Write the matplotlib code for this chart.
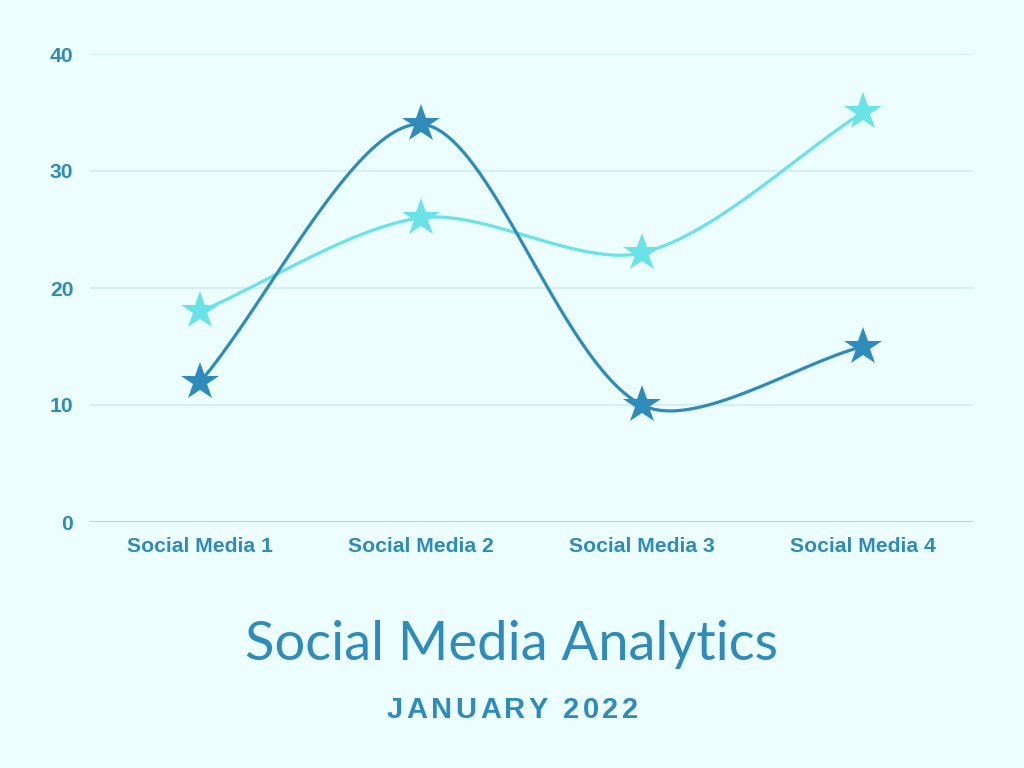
import numpy as np
import matplotlib
matplotlib.use("Agg")
import matplotlib.pyplot as plt

categories = ["Social Media 1", "Social Media 2", "Social Media 3", "Social Media 4"]
series_dark = [12, 34, 10, 15]
series_light = [18, 26, 23, 35]
y_ticks = [0, 10, 20, 30, 40]
title = "Social Media Analytics"
subtitle = "JANUARY 2022"

BG = "#ECFEFE"
DARK = "#2E8BBA"
LIGHT = "#6AE3E8"
GRID = "#D3ECF3"
BASE = "#A9D9EA"
TEXT = "#2E8BBA"

fig = plt.figure(figsize=(10.24, 7.68), dpi=100, facecolor=BG)
ax = fig.add_axes([90/1024, 1-522/768, 883/1024, 468/768])
ax.set_facecolor(BG)
ax.set_xlim(-0.5, len(categories)-0.5)
ax.set_ylim(0, 40)
for s in ax.spines.values():
    s.set_visible(False)
ax.set_yticks(y_ticks)
ax.set_xticks(range(len(categories)))
ax.set_xticklabels(categories)
ax.tick_params(axis="both", length=0, labelcolor=TEXT, labelsize=15.2)
ax.tick_params(axis="x", pad=11)
ax.tick_params(axis="y", pad=12)
for lab in ax.get_xticklabels() + ax.get_yticklabels():
    lab.set_fontfamily("Liberation Sans")
    lab.set_fontweight("bold")
for v in y_ticks[1:]:
    ax.axhline(v, color=GRID, lw=1.2, zorder=0)
ax.axhline(0, color=BASE, lw=1.5, zorder=0)


def spline_curve(xs, ys, tension=0.3, n=40):
    """Bezier smoothing computed in pixel space."""
    pts = ax.transData.transform(np.column_stack([xs, ys]))
    m = len(pts)
    out = []
    cps = []
    for i in range(m):
        cur = pts[i]
        prev = pts[i-1] if i > 0 else cur
        nxt = pts[i+1] if i < m-1 else cur
        d01 = np.hypot(*(cur-prev))
        d12 = np.hypot(*(nxt-cur))
        tot = d01 + d12
        s01 = d01/tot if tot else 0
        s12 = d12/tot if tot else 0
        fa = tension*s01
        fb = tension*s12
        cp_prev = cur - fa*(nxt-prev)
        cp_next = cur + fb*(nxt-prev)
        cps.append((cp_prev, cp_next))
    t = np.linspace(0, 1, n)[:, None]
    for i in range(m-1):
        p0 = pts[i]; p1 = cps[i][1]; p2 = cps[i+1][0]; p3 = pts[i+1]
        seg = ((1-t)**3)*p0 + 3*((1-t)**2)*t*p1 + 3*(1-t)*t**2*p2 + t**3*p3
        out.append(seg if i == 0 else seg[1:])
    curve = np.vstack(out)
    return ax.transData.inverted().transform(curve)

xs = np.arange(len(categories))
for vals, col, z in [(series_light, LIGHT, 3), (series_dark, DARK, 4)]:
    c = spline_curve(xs, vals)
    ax.plot(c[:, 0], c[:, 1], color=col, lw=2.3, zorder=z, solid_capstyle="round")
    ax.plot(xs, vals, linestyle="none", marker="*", markersize=29, color=col,
            markeredgewidth=0, zorder=z)

# Title fitted to width
renderer = fig.canvas.get_renderer()
tt = fig.text(511.5/1024, 1-660/768, title, ha="center", va="baseline",
              fontsize=50, color=TEXT, fontfamily="Lato")
w = tt.get_window_extent(renderer).width
tt.set_fontsize(50*533/w)

# Letter-spaced subtitle
fs = 21
props = dict(fontsize=fs, color=TEXT, fontfamily="Liberation Sans", fontweight="bold")
widths = []
for ch in subtitle:
    if ch == " ":
        a = fig.text(0, 0, "JJ", **props); b = fig.text(0, 0, "J J", **props)
        wch = b.get_window_extent(renderer).width - a.get_window_extent(renderer).width
        a.remove(); b.remove()
    else:
        a = fig.text(0, 0, ch, **props)
        wch = a.get_window_extent(renderer).width
        a.remove()
    widths.append(wch)
target = 251.0
track = (target - sum(widths)) / (len(subtitle)-1)
x = 512.5 - target/2
for ch, wch in zip(subtitle, widths):
    if ch != " ":
        fig.text(x/1024, 1-718/768, ch, ha="left", va="baseline", **props)
    x += wch + track

fig.savefig("out.png", dpi=100, facecolor=BG)
